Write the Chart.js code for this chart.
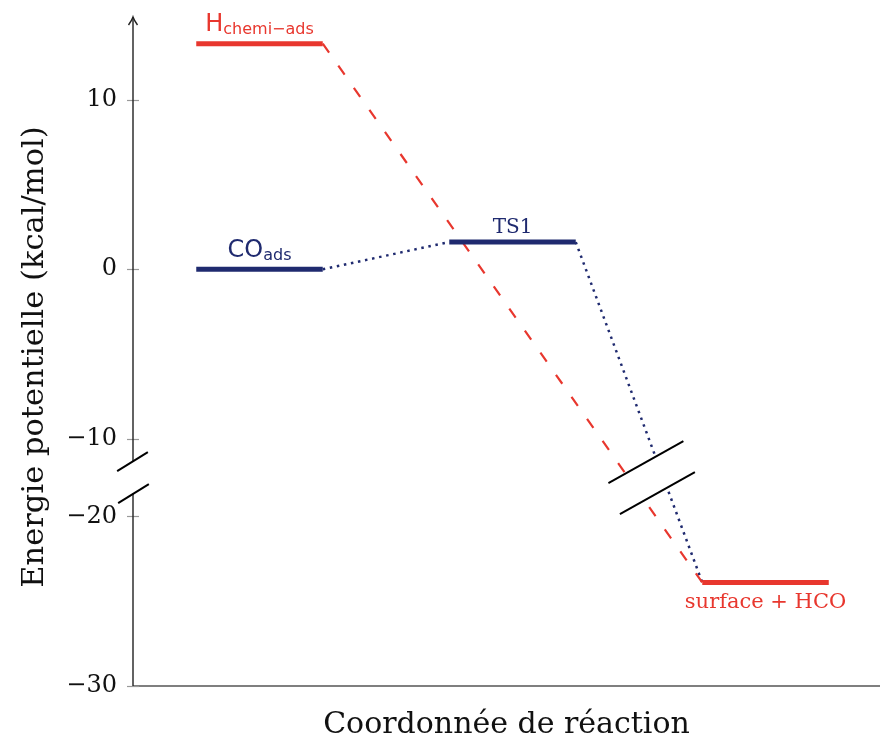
<!DOCTYPE html>
<html>
<head>
<meta charset="utf-8">
<script src="https://cdn.jsdelivr.net/npm/chart.js@4/dist/chart.umd.min.js"></script>
<style>
  html, body { margin: 0; padding: 0; background: #fff; }
  #wrap { width: 880px; height: 737px; }
</style>
</head>
<body>
<div id="wrap"><canvas id="chart" width="880" height="737"></canvas></div>
<script>
// -----------------------
// Data
// -----------------------
const levelNames = ['H', 'CO', 'TS1', 'surface + HCO'];
const levelStep = [1, 1, 3, 5];                 // position along the reaction coordinate
const levelEnergy = [13.3, 0, 1.6, -23.9];      // kcal/mol
const yTicks = [10, 0, -10, -20, -30];

// axis break: everything below BREAK_AT is pulled up by BREAK_SHIFT
const BREAK_AT = -15;
const BREAK_SHIFT = 5.43;
const fwd = v => v < BREAK_AT ? v + BREAK_SHIFT : v;

const RED = '#e8372e';
const NAVY = '#1f2a6f';
const HALF = 0.5;

const SERIF = '"DejaVu Serif", serif';
const SANS = '"DejaVu Sans", sans-serif';

function level(i, color) {
  return {
    data: [
      { x: levelStep[i] - HALF, y: fwd(levelEnergy[i]) },
      { x: levelStep[i] + HALF, y: fwd(levelEnergy[i]) }
    ],
    showLine: true, borderColor: color, borderWidth: 5, pointRadius: 0,
    borderCapStyle: 'butt', order: 0
  };
}

function connector(pairs, color, dash, width) {
  return {
    data: pairs.map(([i, side]) => ({ x: levelStep[i] + side * HALF, y: fwd(levelEnergy[i]) })),
    showLine: true, borderColor: color, borderWidth: width, borderDash: dash,
    pointRadius: 0, borderCapStyle: 'butt', order: 1
  };
}

const datasets = [
  level(0, RED),
  level(1, NAVY),
  level(2, NAVY),
  level(3, RED),
  connector([[0, 1], [3, -1]], RED, [11, 16], 2.2),
  connector([[1, 1], [2, -1]], NAVY, [2.5, 4.7], 2.5),
  connector([[2, 1], [3, -1]], NAVY, [2.5, 4.7], 2.5)
];

// -----------------------
// Decorations: labels, axes, breaks
// -----------------------
function breakMark(ctx, cx, cy, off, dir, half, clear) {
  const u = { x: cx - off.x, y: cy - off.y };
  const l = { x: cx + off.x, y: cy + off.y };
  const a = p => ({ x: p.x - dir.x * half, y: p.y - dir.y * half });
  const b = p => ({ x: p.x + dir.x * half, y: p.y + dir.y * half });
  if (clear) {
    ctx.fillStyle = '#fff';
    ctx.beginPath();
    ctx.moveTo(a(u).x, a(u).y); ctx.lineTo(b(u).x, b(u).y);
    ctx.lineTo(b(l).x, b(l).y); ctx.lineTo(a(l).x, a(l).y);
    ctx.closePath(); ctx.fill();
  }
  ctx.strokeStyle = '#000';
  ctx.lineWidth = 2;
  ctx.setLineDash([]);
  [u, l].forEach(p => {
    ctx.beginPath();
    ctx.moveTo(a(p).x, a(p).y); ctx.lineTo(b(p).x, b(p).y);
    ctx.stroke();
  });
}

function subLabel(ctx, main, sub, cx, base, color) {
  ctx.fillStyle = color;
  ctx.textBaseline = 'alphabetic';
  ctx.textAlign = 'left';
  ctx.font = '24px ' + SANS;
  const w1 = ctx.measureText(main).width;
  ctx.font = '16px ' + SANS;
  const w2 = ctx.measureText(sub).width;
  const x0 = cx - (w1 + w2) / 2;
  ctx.font = '24px ' + SANS;
  ctx.fillText(main, x0, base);
  ctx.font = '16px ' + SANS;
  ctx.fillText(sub, x0 + w1, base + 3);
}

const decor = {
  id: 'decor',
  afterDatasetsDraw(chart) {
    const { ctx, scales: { x, y } } = chart;
    ctx.save();
    // break on the connectors
    const yb = y.getPixelForValue((fwd(-10) + fwd(-20)) / 2);
    const x0 = x.getPixelForValue(levelStep[2] + HALF), y0 = y.getPixelForValue(fwd(levelEnergy[2]));
    const x1 = x.getPixelForValue(levelStep[3] - HALF), y1 = y.getPixelForValue(fwd(levelEnergy[3]));
    const len = Math.hypot(x1 - x0, y1 - y0);
    const along = { x: (x1 - x0) / len * 16.5, y: (y1 - y0) / len * 16.5 };
    breakMark(ctx, x.getPixelForValue(4.1), yb, along, { x: 0.872, y: -0.488 }, 43, true);

    // level labels
    const cxOf = i => x.getPixelForValue(levelStep[i]);
    const cyOf = i => y.getPixelForValue(fwd(levelEnergy[i]));
    subLabel(ctx, levelNames[0], 'chemi\u2212ads', cxOf(0), cyOf(0) - 13, RED);
    subLabel(ctx, levelNames[1], 'ads', cxOf(1), cyOf(1) - 12, NAVY);
    ctx.textAlign = 'center';
    ctx.fillStyle = NAVY;
    ctx.font = '20px ' + SERIF;
    ctx.fillText(levelNames[2], cxOf(2), cyOf(2) - 9);
    ctx.fillStyle = RED;
    ctx.font = '21px ' + SERIF;
    ctx.fillText(levelNames[3], cxOf(3), cyOf(3) + 25);
    ctx.restore();
  },
  afterDraw(chart) {
    const { ctx, chartArea: a, scales: { y } } = chart;
    ctx.save();
    const ax = a.left;
    const yb = y.getPixelForValue((fwd(-10) + fwd(-20)) / 2);
    // x axis
    ctx.strokeStyle = '#555';
    ctx.lineWidth = 1.5;
    ctx.beginPath(); ctx.moveTo(ax, a.bottom); ctx.lineTo(a.right, a.bottom); ctx.stroke();
    // ticks
    ctx.strokeStyle = '#999';
    ctx.lineWidth = 1.2;
    y.ticks.forEach(t => {
      const py = Math.round(y.getPixelForValue(t.value)) + 0.5;
      ctx.beginPath(); ctx.moveTo(ax - 6, py); ctx.lineTo(ax + 6, py); ctx.stroke();
    });
    // y axis in two parts
    ctx.strokeStyle = '#222';
    ctx.lineWidth = 1.4;
    ctx.beginPath();
    ctx.moveTo(ax, a.top); ctx.lineTo(ax, yb - 16);
    ctx.moveTo(ax, yb + 16); ctx.lineTo(ax, a.bottom);
    ctx.stroke();
    // arrow head
    ctx.beginPath();
    ctx.moveTo(ax - 4.5, a.top + 8); ctx.quadraticCurveTo(ax - 1, a.top + 3, ax, a.top);
    ctx.quadraticCurveTo(ax + 1, a.top + 3, ax + 4.5, a.top + 8);
    ctx.stroke();
    breakMark(ctx, ax, yb, { x: 0.5, y: 16 }, { x: 0.853, y: -0.523 }, 18, false);

    // axis titles
    ctx.fillStyle = '#111';
    ctx.textAlign = 'center';
    ctx.textBaseline = 'alphabetic';
    ctx.font = '30px ' + SERIF;
    ctx.fillText('Coordonnée de réaction', (a.left + a.right) / 2, 733);
    ctx.font = '30.5px ' + SERIF;
    ctx.translate(43, 357);
    ctx.rotate(-Math.PI / 2);
    ctx.fillText('Energie potentielle (kcal/mol)', 0, 0);
    ctx.restore();
  }
};

// -----------------------
// Chart
// -----------------------
new Chart(document.getElementById('chart').getContext('2d'), {
  type: 'scatter',
  data: { datasets },
  options: {
    responsive: false,
    animation: false,
    layout: { padding: { top: 17, right: 0, left: 0, bottom: 0 } },
    plugins: { legend: { display: false }, tooltip: { enabled: false } },
    scales: {
      x: {
        type: 'linear', min: 0, max: 5.905,
        grid: { display: false, drawTicks: false },
        border: { display: false },
        ticks: { display: false },
        afterFit: s => { s.height = 51; s.paddingLeft = 0; s.paddingRight = 0; }
      },
      y: {
        type: 'linear', min: fwd(-30), max: 14.87,
        afterBuildTicks: s => { s.ticks = yTicks.map(v => ({ value: fwd(v) })); },
        grid: { display: false, drawTicks: false },
        border: { display: false },
        ticks: {
          padding: 16,
          color: '#111',
          font: { family: SERIF, size: 24 },
          callback: (v, i) => String(yTicks[i]).replace('-', '\u2212')
        },
        afterFit: s => { s.width = 133; s.paddingTop = 0; s.paddingBottom = 0; }
      }
    }
  },
  plugins: [decor]
});
</script>
</body>
</html>
